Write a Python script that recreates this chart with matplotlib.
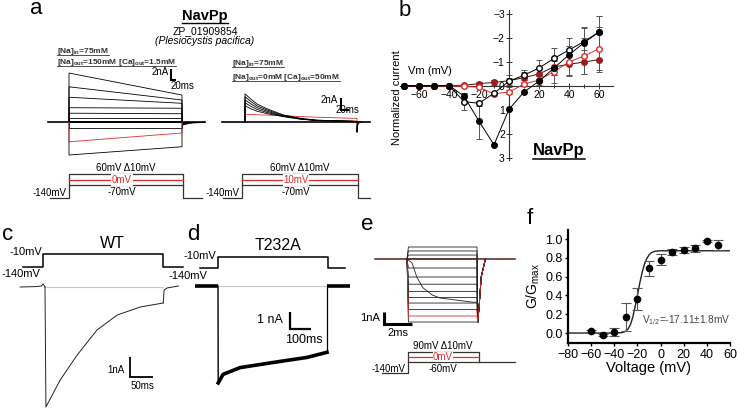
import numpy as np
import matplotlib
matplotlib.use('Agg')
import matplotlib.pyplot as plt

plt.rcParams['font.family'] = ['Liberation Sans', 'DejaVu Sans']
plt.rcParams['mathtext.fontset'] = 'custom'
plt.rcParams['mathtext.rm'] = 'Liberation Sans'
plt.rcParams['mathtext.it'] = 'Liberation Sans:italic'
plt.rcParams['mathtext.bf'] = 'Liberation Sans:bold'

W, H = 737, 409
RED = '#e02a2a'
DRED = '#9c1c1c'
GREY = '#555555'

# ---- panel a, left: Na out 150 mM, currents (nA) at step onset / pulse end
a1_start = [8.9, 6.4, 4.5, 2.6, 1.6, 0.7, 0.15, 0.0, -1.1, -3.6, -6.0]
a1_end = [4.9, 4.0, 3.4, 2.5, 1.5, 0.7, 0.15, 0.0, -1.1, -2.0, -4.5]
a1_red = 9
a1_pulse = 450          # ms
a1_window = (-84, 541)  # ms
a1_tail_t = [0, 2, 15, 40, 90]
a1_tail_i = [-0.6, -0.45, -0.3, -0.1, 0.0]

# ---- panel a, right: Ca out 50 mM, decaying currents (nA)
a2_t = [0, 15, 30, 55, 95, 140, 180, 280]
a2_i = [
    [4.7, 3.8, 3.0, 2.2, 1.2, 0.6, 0.3, 0.1],
    [4.2, 3.4, 2.7, 2.0, 1.1, 0.55, 0.3, 0.1],
    [3.7, 3.0, 2.4, 1.8, 1.0, 0.5, 0.25, 0.1],
    [3.2, 2.6, 2.1, 1.6, 0.95, 0.5, 0.25, 0.1],
    [2.7, 2.2, 1.8, 1.4, 0.9, 0.45, 0.25, 0.1],
]
a2_red = [1.3, 1.25, 1.2, 1.15, 1.05, 0.9, 0.8, 0.6]
a2_window = (-57, 312)
a2_spike_t = [0, 1, 4, 12]
a2_spike_i = [-1.7, -0.6, -0.15, 0.0]

# ---- panel b: normalized I-V
b_v = [-70, -60, -50, -40, -30, -20, -10, 0, 10, 20, 30, 40, 50, 60]
b_filled = [0, 0, 0, -0.02, 0.42, 1.47, 2.45, 0.97, 0.25, -0.2, -0.75, -1.3, -1.8, -2.25]
b_filled_err = [0, 0, 0, 0, 0.1, 0.75, 0, 0, 0, 0.05, 0.3, 0.35, 0.6, 0.65]
b_open = [0, 0, 0, -0.02, 0.65, 0.72, 0.3, -0.2, -0.45, -0.75, -1.15, -1.5, -1.85, -2.25]
b_open_err = [0, 0, 0, 0, 0.35, 0.1, 0, 0.15, 0.2, 0.35, 0.43, 0.5, 0.6, 0.65]
b_ropen = [0.02, 0.02, 0.02, 0.0, 0.02, 0.05, 0.33, 0.25, -0.08, -0.25, -0.6, -1.0, -1.25, -1.55]
b_ropen_err = [0, 0, 0, 0, 0, 0, 0.1, 0.1, 0.1, 0.2, 0.48, 0.55, 0.75, 0.9]
b_rfill = [-0.02, -0.02, -0.02, -0.02, -0.03, -0.1, -0.15, -0.22, -0.35, -0.5, -0.8, -0.9, -1.0, -1.1]
b_rfill_err = [0, 0, 0, 0, 0, 0.08, 0.1, 0.25, 0.25, 0.3, 0.35, 0.5, 0.5, 0.5]

# ---- panel c: WT trace (ms, nA)
c_pre_t = [-54, -20, -8, -4, -1, 0]
c_pre_i = [0, 0.02, 0.05, 0.15, 0.05, 0]
c_t = [0, 2, 33, 70, 113, 157, 207, 257]
c_i = [0, -6.0, -4.65, -3.4, -2.15, -1.4, -1.0, -0.8]
c_post_t = [257, 259, 265, 290]
c_post_i = [-0.8, -0.15, -0.05, 0.05]

# ---- panel d: T232A trace
d_t = [0, 1, 24, 105, 262, 424, 519]
d_i = [0, -5.7, -5.2, -4.8, -4.5, -4.2, -3.9]
d_pre = (-110, 0)
d_post = (519, 630)

# ---- panel e: step currents (nA), pulse 5 ms
e_levels = [1.0, 0.67, 0.33, 0.0, -0.75, -1.5, -2.1, -2.7, -3.2, -3.67, -4.2, -4.75, -5.25]
e_red = 11
e_pulse = 5.0
e_window = (-2.3, 7.7)
e_tail_t = [0.05, 0.15, 0.3, 0.6]
e_tail_i = [-5.3, -4.0, -1.5, 0.0]
e_slow_t = [0, 0.36, 0.7, 1.14, 1.8, 2.36, 4.7, 5.0]
e_slow_i = [0, -0.33, -1.5, -2.4, -3.0, -3.25, -3.6, -3.6]

# ---- panel f: G/Gmax
f_v = [-60, -50, -40, -30, -20, -10, 0, 10, 20, 30, 40, 50]
f_g = [0.02, -0.02, 0.01, 0.17, 0.36, 0.69, 0.78, 0.86, 0.88, 0.90, 0.98, 0.935]
f_err = [0.01, 0.01, 0.04, 0.15, 0.12, 0.08, 0.06, 0.03, 0.03, 0.04, 0.01, 0.05]
f_fit_v = [-80, -40, -33, -30, -28, -26, -24, -22, -20, -18, -16, -14, -12, -10, -8, -5, 0, 60]
f_fit_g = [0, 0, 0.005, 0.02, 0.045, 0.09, 0.17, 0.28, 0.40, 0.53, 0.64, 0.73, 0.79, 0.83,
           0.855, 0.87, 0.875, 0.875]

fig = plt.figure(figsize=(W / 100, H / 100), dpi=100)


def px_axes(l, t, r, b, x0, y0, sx, sy):
    # axes placed in pixels; (x0, y0) is the pixel of data origin
    ax = fig.add_axes([l / W, 1 - b / H, (r - l) / W, (b - t) / H])
    ax.set_xlim((l - x0) / sx, (r - x0) / sx)
    ax.set_ylim((y0 - b) / sy, (y0 - t) / sy)
    ax.axis('off')
    return ax


def scalebar(ax, t, i, dt, di, lw=1.5):
    ax.plot([t, t, t + dt], [i + di, i, i], color='k', lw=lw, solid_capstyle='butt',
            solid_joinstyle='miter', clip_on=False)


# ---------- a left
ax = px_axes(40, 60, 215, 165, 69, 122, 113 / a1_pulse, 5.5)
ax.plot(a1_window, [0, 0], color='k', lw=1.2)
for k, (s, e) in enumerate(zip(a1_start, a1_end)):
    col = RED if k == a1_red else 'k'
    ax.plot([0, 0, a1_pulse, a1_pulse], [0, s, e, 0], color=col, lw=0.6, zorder=3 if k == a1_red else 2)
tt = a1_pulse + np.array(a1_tail_t)
ax.fill_between(tt, a1_tail_i, 0, color='k', lw=0.5)
scalebar(ax, 406, 7.64, 20, 2)

# ---------- a right
ax = px_axes(215, 60, 372, 165, 245, 122, 0.4, 6)
ax.plot(a2_window, [0, 0], color='k', lw=1.2)
for row in a2_i:
    ax.plot([0] + a2_t + [a2_t[-1]], [0] + row + [0], color='k', lw=0.6)
ax.plot([0] + a2_t + [a2_t[-1]], [0] + a2_red + [0], color=RED, lw=0.6, zorder=1)
ax.plot(a2_t[-1] + np.array([0] + a2_spike_t), [0] + a2_spike_i, color='k', lw=0.8)
scalebar(ax, 240, 2.0, 20, 2)

# ---------- b
axb = px_axes(400, 10, 613, 160, 509, 86, 1.5, -24)
axb.axis('on')
for s in ['top', 'right']:
    axb.spines[s].set_visible(False)
for s in ['left', 'bottom']:
    axb.spines[s].set_position('zero')
    axb.spines[s].set_linewidth(0.8)
    axb.spines[s].set_color('#333333')
axb.set_xticks([-60, -40, -20, 20, 40, 60])
axb.set_xticks(range(-70, 61, 10), minor=True)
axb.set_yticks([-3, -2, -1, 0, 1, 2, 3])
axb.tick_params(which='both', direction='inout', length=4, width=0.7, labelsize=7.5, pad=1,
                color='#333333')
axb.tick_params(which='minor', length=3)
axb.patch.set_alpha(0)
ek = dict(ecolor=GREY, elinewidth=0.7, capsize=2, capthick=0.7)
axb.errorbar(b_v, b_filled, yerr=b_filled_err, fmt='none', **ek)
axb.errorbar(b_v, b_open, yerr=b_open_err, fmt='none', **ek)
axb.errorbar(b_v, b_ropen, yerr=b_ropen_err, fmt='none', **ek)
axb.errorbar(b_v, b_rfill, yerr=b_rfill_err, fmt='none', **ek)
axb.plot(b_v, b_rfill, '-o', color='#3a1010', lw=0.7, ms=4, mfc=DRED, mec=DRED, zorder=4)
axb.plot(b_v, b_ropen, '-o', color=RED, lw=0.7, ms=4, mfc='white', mec=RED, zorder=4)
axb.plot(b_v, b_open, '-o', color='k', lw=0.7, ms=4, mfc='white', mec='k', zorder=5)
axb.plot(b_v, b_filled, '-o', color='k', lw=0.7, ms=4, mfc='k', mec='k', zorder=5)

# ---------- c
axc = px_axes(10, 240, 215, 412, 45, 287, 0.46, 20)
axc.plot([0, c_t[-1]], [0, 0], color='#c8c8c8', lw=0.8)
axc.plot(c_pre_t, c_pre_i, color='#222222', lw=0.7)
axc.plot(c_t, c_i, color='#222222', lw=0.7)
axc.plot(c_post_t, c_post_i, color='#222222', lw=0.7)
scalebar(axc, 185, -4.5, 50, 1, lw=1.3)

# ---------- d
axd = px_axes(190, 240, 370, 412, 218, 286, 0.21, 17)
axd.plot([0, d_t[-1]], [0, 0], color='#c8c8c8', lw=0.8)
axd.plot(d_pre, [0, 0], color='k', lw=2.6, solid_capstyle='butt')
axd.plot(d_post, [0, 0], color='k', lw=2.6, solid_capstyle='butt')
axd.plot(d_t[:3], d_i[:3], color='k', lw=1.0)
axd.plot(d_t[1:], d_i[1:], color='k', lw=2.6)
axd.plot([d_t[-1], d_t[-1]], [d_i[-1], 0], color='k', lw=0.9)
scalebar(axd, 343, -2.53, 100, 1, lw=1.6)

# ---------- e
axe = px_axes(370, 235, 520, 330, 407, 259, 14, 12)
for k, lev in enumerate(e_levels):
    col = RED if k == e_red else '#222222'
    t = [0, 0.1, e_pulse] + list(e_pulse + np.array(e_tail_t))
    i = [0, lev, lev] + e_tail_i
    axe.plot(t, i, color=col, lw=0.6, zorder=3 if k == e_red else 2)
axe.plot(e_slow_t, e_slow_i, color='#222222', lw=0.6)
axe.plot(e_window, [0, 0], color='#5a1a1a', lw=1.1, zorder=4)
scalebar(axe, -1.64, -5.42, 2, 1, lw=2.2)

# ---------- f
axf = fig.add_axes([568 / W, 1 - 343 / H, (730 - 568) / W, (343 - 230) / H])
axf.set_xlim(-80, 60)
axf.set_ylim(-0.106, 1.096)
for s in ['top', 'right']:
    axf.spines[s].set_visible(False)
for s in ['left', 'bottom']:
    axf.spines[s].set_linewidth(1.6)
axf.set_xticks(range(-80, 61, 20))
axf.set_yticks([0, 0.2, 0.4, 0.6, 0.8, 1.0])
axf.set_yticklabels(['0.0', '0.2', '0.4', '0.6', '0.8', '1.0'])
axf.tick_params(length=2, width=1, labelsize=9, pad=2)
axf.patch.set_alpha(0)
axf.plot(f_fit_v, f_fit_g, color='#222222', lw=1.0)
axf.errorbar(f_v, f_g, yerr=f_err, fmt='o', color='k', ms=4.5, ecolor=GREY, elinewidth=0.8,
             capsize=3.5, capthick=0.8)
axf.set_xlabel('Voltage (mV)', fontsize=10.5, labelpad=0)
axf.set_ylabel('G/G$_{\\rm max}$', fontsize=10, labelpad=2)
axf.text(-16, 0.1, 'V$_{1/2}$=-17.11$\\pm$1.8mV', fontsize=7.3, color='#444444')

# ---------- overlay for labels and protocols (pixel coordinates)
ov = fig.add_axes([0, 0, 1, 1])
ov.set_xlim(0, W)
ov.set_ylim(H, 0)
ov.axis('off')


def txt(x, y, s, size, **kw):
    kw.setdefault('ha', 'center')
    kw.setdefault('va', 'center')
    return ov.text(x, y, s, fontsize=size, **kw)


def underline(t, y, lw=0.8):
    fig.canvas.draw()
    bb = t.get_window_extent()
    inv = ov.transData.inverted()
    (x0, _), (x1, _) = inv.transform([[bb.x0, bb.y0], [bb.x1, bb.y1]])
    ov.plot([x0, x1], [y, y], color=t.get_color(), lw=lw)


for lab, x, y in [('a', 36, 9), ('b', 405, 11), ('c', 8, 235), ('d', 193, 235), ('e', 367, 224),
                  ('f', 530, 219)]:
    txt(x, y, lab, 16)

t = txt(205, 20, 'NavPp', 10.5, weight='bold', va='baseline')
underline(t, 23, lw=1.0)
txt(205, 31, 'ZP_01909854', 7.5)
txt(205, 41, '(Plesiocystis pacifica)', 7.5, style='italic')

cond = [(57, 53, '[Na]$_{\\bf in}$=75mM'),
        (57, 64, '[Na]$_{\\bf out}$=150mM [Ca]$_{\\bf out}$=1.5mM'),
        (232, 65, '[Na]$_{\\bf in}$=75mM'),
        (232, 79, '[Na]$_{\\bf out}$=0mM [Ca]$_{\\bf out}$=50mM')]
for x, y, s in cond:
    t = txt(x, y, s, 6, ha='left', va='baseline', weight='bold', color='#333333')
    underline(t, y + 2.2, lw=0.6)

txt(169, 72, '2nA', 7, ha='right')
txt(183, 86, '20ms', 7)
txt(338, 100, '2nA', 7, ha='right')
txt(348, 110, '20ms', 7)

# step protocols for panel a
prot_hold = -140
prot_low = -70
prot_high = 60
prot_step = 10
prot_red = [0, 10]
for (xh, xon, xoff, xend), red in zip([(50, 69, 183, 202), (223, 242, 358, 370)], prot_red):
    yt, yr, yl, yh = 174, 180, 185, 198
    ov.plot([xh, xon, xon, xoff, xoff, xend], [yh, yh, yt, yt, yh, yh], color='#333333', lw=0.9)
    ov.plot([xon, xoff], [yl, yl], color='#333333', lw=0.9)
    ov.plot([xon, xoff], [yr, yr], color=RED, lw=0.9)
    xc = (xon + xoff) / 2
    txt(xc, 168, f'{prot_high}mV \u0394{prot_step}mV', 7)
    txt(xc - 4, 180, f'{red}mV', 7, color=RED,
        bbox=dict(facecolor='white', edgecolor='none', pad=0.5))
    txt(xc - 4, 192, f'{prot_low}mV', 7)
    txt(xon - 2, 193, f'{prot_hold}mV', 7, ha='right')

# panels c, d protocols
cd_test = -10
for (xh, xon, xoff, xend), yt, yh in [((23, 43, 163, 183), 254, 267), ((200, 218, 328, 345), 257, 268)]:
    ov.plot([xh, xon, xon, xoff, xoff, xend], [yh, yh, yt, yt, yh, yh], color='k', lw=1.1)
txt(112, 243, 'WT', 11.5)
txt(278, 245, 'T232A', 11.5)
txt(42, 252, f'{cd_test}mV', 8, ha='right')
txt(1, 274, f'{prot_hold}mV', 8, ha='left')
txt(188, 276, f'{prot_hold}mV', 8)
txt(216, 256, f'{cd_test}mV', 8, ha='right')
txt(125, 370, '1nA', 7, ha='right')
txt(142, 386, '50ms', 7)
txt(283, 320, '1 nA', 9, ha='right')
txt(304, 340, '100ms', 9)

# panel e
txt(380, 318, '1nA', 8, ha='right')
txt(398, 333, '2ms', 8)
e_hold, e_low, e_high, e_step, e_red_mv = -140, -60, 90, 10, 0
ov.plot([382, 408, 408, 479, 479], [373, 373, 352, 352, 362], color='#333333', lw=0.9)
ov.plot([408, 515], [362, 362], color='#333333', lw=0.9)
ov.plot([408, 479], [357, 357], color=RED, lw=0.9)
txt(443, 346, f'{e_high}mV \u0394{e_step}mV', 7)
txt(443, 357, f'{e_red_mv}mV', 7, color=RED, bbox=dict(facecolor='white', edgecolor='none', pad=0.3))
txt(443, 369, f'{e_low}mV', 7)
txt(406, 369, f'{e_hold}mV', 7, ha='right')

# panel b labels
txt(430, 71, 'Vm (mV)', 8)
txt(397, 98, 'Normalized current', 8, rotation=90)
t = txt(559, 155, 'NavPp', 12, weight='bold', va='baseline')
underline(t, 159, lw=1.1)

fig.savefig('out.png', dpi=100)
